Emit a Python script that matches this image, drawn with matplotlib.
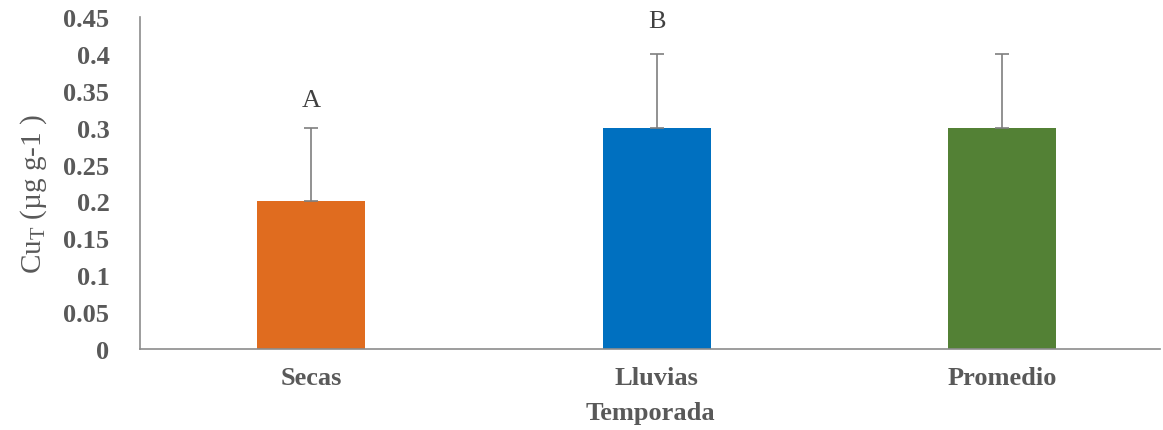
import matplotlib
matplotlib.use("Agg")
import matplotlib.pyplot as plt

categories = ["Secas", "Lluvias", "Promedio"]
values = [0.2, 0.3, 0.3]
errors_up = [0.1, 0.1, 0.1]
letters = ["A", "B", ""]
letter_y = [0.338, 0.445, None]
colors = ["#E06C1F", "#0070C0", "#538135"]
yticks = [0, 0.05, 0.1, 0.15, 0.2, 0.25, 0.3, 0.35, 0.4, 0.45]
ytick_labels = ["0", "0.05", "0.1", "0.15", "0.2", "0.25", "0.3", "0.35", "0.4", "0.45"]

plt.rcParams['font.family'] = ['Liberation Serif', 'DejaVu Serif']
txt = "#595959"

fig = plt.figure(figsize=(11.63, 4.31), dpi=100)
ax = fig.add_axes([140/1163, 81/431, 1020/1163, 332/431])

x = list(range(len(categories)))
ax.bar(x, values, width=0.313, color=colors, zorder=2)
ax.errorbar(x, values, yerr=[[0]*3, errors_up], fmt='none', ecolor="#7F7F7F",
            elinewidth=1.2, capsize=5, capthick=1.2, zorder=3)
for xi, l, ly in zip(x, letters, letter_y):
    if l:
        ax.text(xi, ly, l, ha='center', va='center', fontsize=19, color="#404040")

ax.set_xlim(-0.496, 2.457)
ax.set_ylim(0, 0.45)
ax.set_yticks(yticks)
ax.set_yticklabels(ytick_labels)
ax.set_xticks(x)
ax.set_xticklabels(categories)
ax.tick_params(axis='y', length=0, pad=22, labelsize=19, labelcolor=txt)
ax.tick_params(axis='x', length=0, pad=12, labelsize=19, labelcolor=txt)
for lab in ax.get_xticklabels() + ax.get_yticklabels():
    lab.set_fontweight('bold')

for s in ['top', 'right']:
    ax.spines[s].set_visible(False)
for s in ['left', 'bottom']:
    ax.spines[s].set_color("#8C8C8C")
    ax.spines[s].set_linewidth(1.2)

ax.set_xlabel("Temporada", fontsize=19, fontweight='bold', color=txt, labelpad=9)
ax.set_ylabel(r"Cu$_\mathregular{T}$ (µg g-1 )", fontsize=21, fontweight='normal',
              color=txt, labelpad=10)
ax.yaxis.label.set_y(0.47)

fig.savefig("out.png", dpi=100)
